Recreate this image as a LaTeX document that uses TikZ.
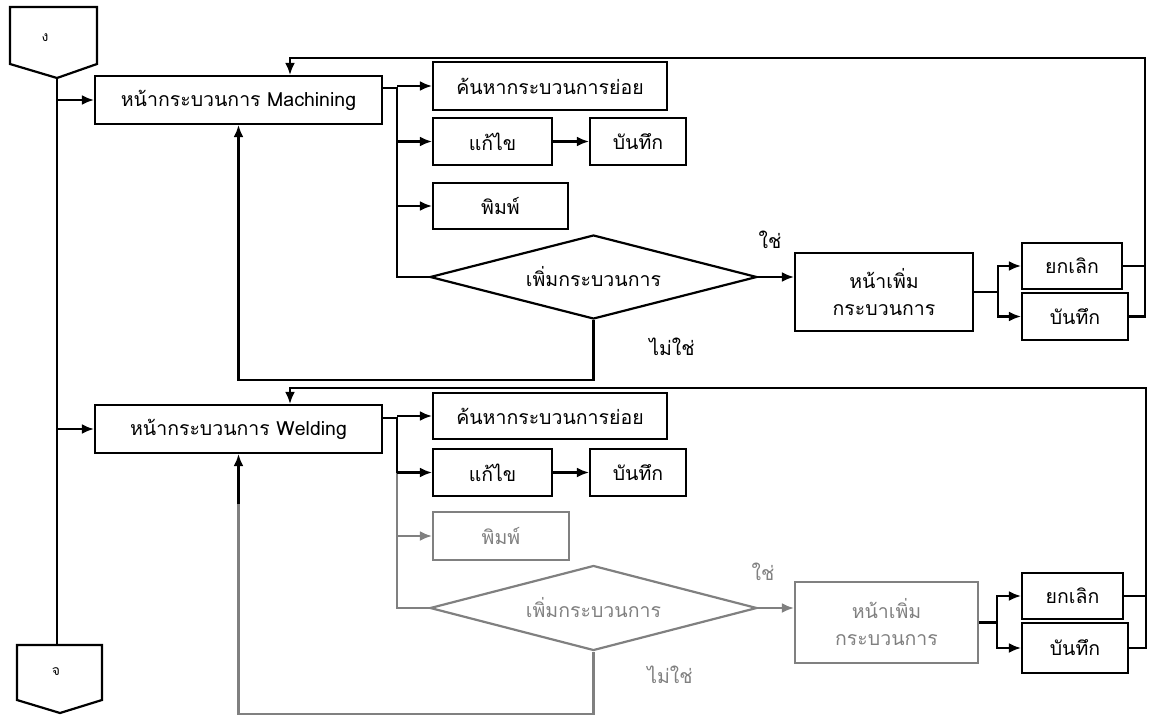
\documentclass[tikz,border=0pt]{standalone}
\usepackage{fontspec}
\setmainfont[Script=Thai]{Loma}
\usetikzlibrary{arrows.meta,shapes.geometric,calc}
\definecolor{wm}{gray}{0.5}
\tikzset{
  x=1pt,y=-1pt,
  every node/.style={font=\fontsize{19.5}{26}\selectfont},
  flow/.style={line width=2.2pt,draw=black},
  arr/.style={flow,-{Latex[length=12pt,width=10pt]}},
  box/.style={draw,line width=2.2pt,rectangle,inner sep=0pt,anchor=center},
  dia/.style={draw,line width=2.2pt,diamond,aspect=3.9,inner sep=0pt,minimum width=327pt,minimum height=84pt},
  lbl/.style={inner sep=0pt}
}
\begin{document}
\begin{tikzpicture}
\useasboundingbox (0,0) rectangle (1156,715);
% ---- off-page connectors
\draw[flow] (10,7) -- (97,7) -- (97,64) -- (57,78) -- (10,64) -- cycle;
\node[lbl,font=\fontsize{14}{16}\selectfont] (tl) at (45,38) {ง};
\coordinate (Ttip) at (57,78);
\draw[flow] (17,645) -- (102,645) -- (102,700) -- (60,713) -- (17,700) -- cycle;
\node[lbl,font=\fontsize{14}{16}\selectfont] (bl) at (56,672) {จ};
\coordinate (Btop) at (57,645);
\draw[flow] (Ttip) -- (Btop);

% ================= upper part
\node[box,minimum width=287pt,minimum height=48pt] (M) at (238.5,100) {หน้ากระบวนการ Machining};
\node[box,minimum width=234pt,minimum height=48pt] (S1) at (550,86) {ค้นหากระบวนการย่อย};
\node[box,minimum width=119pt,minimum height=47pt] (E1) at (492.5,141.5) {แก้ไข};
\node[box,minimum width=96pt,minimum height=47pt] (B1) at (638,141.5) {บันทึก};
\node[box,minimum width=135pt,minimum height=46pt] (P1) at (500.5,206) {พิมพ์};
\node[dia] (D1) at (593.5,277) {เพิ่มกระบวนการ};
\node[box,minimum width=178pt,minimum height=78pt,align=center,font=\fontsize{19.5}{27}\selectfont] (A1) at (884,292) {หน้าเพิ่ม\\กระบวนการ};
\node[box,minimum width=100pt,minimum height=46pt] (C1) at (1072,266) {ยกเลิก};
\node[box,minimum width=106pt,minimum height=47pt] (V1) at (1075,316.5) {บันทึก};
\node[lbl] (yes1) at (770,240) {ใช่};
\node[lbl] (no1) at (672,347) {ไม่ใช่};

\coordinate (bus1) at (397,88);
\coordinate (br1) at (998,292);
\coordinate (rt1) at (1145,58);
\coordinate (in1) at (290,58);

\draw[arr] (Ttip |- M.west) -- (M.west);
\draw[flow] (M.east |- bus1) -- (bus1) -- (bus1 |- D1.west) -- (D1.west);
\draw[arr] (bus1 |- S1.west) -- (S1.west);
\draw[arr] (bus1 |- E1.west) -- (E1.west);
\draw[arr] (bus1 |- P1.west) -- (P1.west);
\draw[arr] (E1.east) -- (B1.west);
\draw[arr] (D1.east) -- (A1.west |- D1.east);
\draw[arr] (D1.south) -- ++(0,60) -| (M.south);
\draw[flow] (A1.east) -- (br1);
\draw[arr] (br1) |- (C1.west);
\draw[arr] (br1) |- (V1.west);
\draw[flow] (C1.east) -- (C1.east -| rt1);
\draw[arr] (V1.east) -| (rt1) -- (in1) -- (in1 |- M.north);

% ================= lower part
\node[box,minimum width=287pt,minimum height=48pt] (W) at (238.5,429) {หน้ากระบวนการ Welding};
\node[box,minimum width=234pt,minimum height=46pt] (S2) at (550,416) {ค้นหากระบวนการย่อย};
\node[box,minimum width=119pt,minimum height=47pt] (E2) at (492.5,472.5) {แก้ไข};
\node[box,minimum width=96pt,minimum height=47pt] (B2) at (638,472.5) {บันทึก};
\node[box,draw=wm,text=wm,minimum width=136pt,minimum height=48pt] (P2) at (501,536) {พิมพ์};
\node[dia,draw=wm,text=wm,minimum height=85pt] (D2) at (593.5,608) {เพิ่มกระบวนการ};
\node[box,draw=wm,text=wm,minimum width=183pt,minimum height=81pt,align=center,font=\fontsize{19.5}{27}\selectfont] (A2) at (886.5,622.5) {หน้าเพิ่ม\\กระบวนการ};
\node[box,minimum width=101pt,minimum height=46pt] (C2) at (1072.5,596) {ยกเลิก};
\node[box,minimum width=106pt,minimum height=50pt] (V2) at (1075,648) {บันทึก};
\node[lbl,text=wm] (yes2) at (763,572) {ใช่};
\node[lbl,text=wm] (no2) at (670,675) {ไม่ใช่};

\coordinate (bus2) at (397,418);
\coordinate (br2) at (997,622.5);
\coordinate (rt2) at (1146,388);
\coordinate (in2) at (290,388);

\draw[arr] (Ttip |- W.west) -- (W.west);
\draw[flow] (W.east |- bus2) -- (bus2) -- (bus2 |- E2.west);
\draw[flow,draw=wm] (bus2 |- E2.west) -- (bus2 |- D2.west) -- (D2.west);
\draw[arr] (bus2 |- S2.west) -- (S2.west);
\draw[arr] (bus2 |- E2.west) -- (E2.west);
\draw[arr,draw=wm,fill=wm] (bus2 |- P2.west) -- (P2.west);
\draw[arr] (E2.east) -- (B2.west);
\draw[arr,draw=wm,fill=wm] (D2.east) -- (A2.west |- D2.east);
\draw[flow,draw=wm] (D2.south) -- ++(0,62) -| ($(W.south)+(0,50)$);
\draw[arr] ($(W.south)+(0,50)$) -- (W.south);
\draw[flow] (A2.east) -- (br2);
\draw[arr] (br2) |- (C2.west);
\draw[arr] (br2) |- (V2.west);
\draw[flow] (C2.east) -- (C2.east -| rt2);
\draw[arr] (V2.east) -| (rt2) -- (in2) -- (in2 |- W.north);
\end{tikzpicture}
\end{document}
